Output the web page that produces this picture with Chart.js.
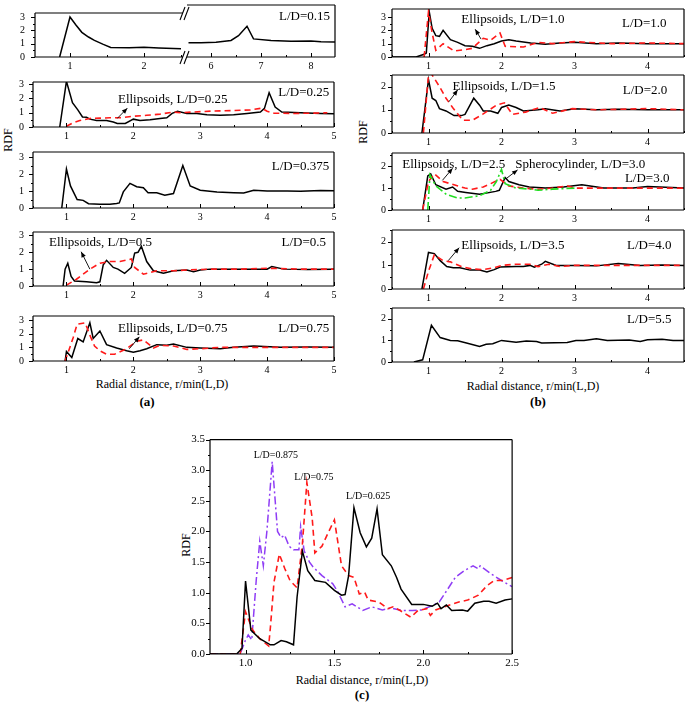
<!DOCTYPE html>
<html>
<head>
<meta charset="utf-8">
<script src="https://cdn.jsdelivr.net/npm/chart.js@4.4.0/dist/chart.umd.min.js"></script>
<style>
  body { margin: 0; background: #fff; }
  #page { position: relative; width: 685px; height: 702px; overflow: hidden;
          font-family: "Liberation Serif", "Times New Roman", serif; color: #000; }
  #page canvas { position: absolute; }
  .lbl { position: absolute; font-size: 12px; white-space: nowrap; transform: translate(-50%, -50%); }
  .rot { transform: translate(-50%, -50%) rotate(-90deg); }
  .fig { font-size: 13px; font-weight: bold; }
</style>
</head>
<body>
<div id="page">
  <div class="lbl rot" style="left:8px;top:140px">RDF</div>
  <div class="lbl rot" style="left:363px;top:132px">RDF</div>
  <div class="lbl rot" style="left:186px;top:545px">RDF</div>
  <div class="lbl" style="left:162px;top:384px">Radial distance, r/min(L,D)</div>
  <div class="lbl" style="left:533px;top:386px">Radial distance, r/min(L,D)</div>
  <div class="lbl" style="left:362px;top:680px">Radial distance, r/min(L,D)</div>
  <div class="lbl fig" style="left:147px;top:402px">(a)</div>
  <div class="lbl fig" style="left:538px;top:402px">(b)</div>
  <div class="lbl fig" style="left:362px;top:695px">(c)</div>
</div>
<script>
// =====================
// Datos (x = r/min(L,D), y = RDF)
// =====================
const a015Left  = [[0.86,0],[1.0,3.0],[1.08,2.4],[1.16,1.85],[1.25,1.5],[1.33,1.25],[1.45,0.95],[1.55,0.72],[1.8,0.7],[2.0,0.73],[2.2,0.68],[2.5,0.62]];
const a015Right = [[5.55,0.9],[5.8,0.9],[6.1,0.93],[6.4,1.05],[6.55,1.35],[6.72,1.95],[6.85,1.15],[7.2,1.05],[7.6,1.0],[8.0,1.02],[8.2,0.97],[8.48,0.95]];

const a025    = [[0.9,0],[1.0,3.2],[1.09,1.7],[1.17,1.2],[1.24,0.7],[1.3,0.68],[1.35,0.55],[1.45,0.45],[1.6,0.45],[1.7,0.35],[1.76,0.25],[1.88,0.25],[2.0,0.55],[2.1,0.45],[2.25,0.5],[2.4,0.6],[2.5,0.65],[2.58,0.95],[2.66,1.1],[2.8,0.95],[2.95,0.95],[3.1,0.85],[3.3,0.82],[3.5,0.85],[3.7,0.95],[3.9,1.05],[3.96,1.3],[4.03,2.4],[4.12,1.4],[4.22,1.05],[4.5,1.0],[4.8,0.95],[5.0,0.92]];
const a025Ell = [[1.0,0.05],[1.1,0.3],[1.2,0.45],[1.35,0.6],[1.5,0.62],[1.65,0.65],[1.8,0.65],[2.0,0.75],[2.2,0.82],[2.4,0.9],[2.6,1.05],[2.7,1.0],[2.9,1.05],[3.2,1.12],[3.5,1.15],[3.75,1.2],[3.92,1.32],[4.0,1.1],[4.1,0.97],[4.4,0.95],[4.7,0.97],[4.9,1.0]];

const a0375 = [[0.93,0],[1.0,2.3],[1.06,1.3],[1.16,0.5],[1.25,0.45],[1.33,0.25],[1.5,0.22],[1.65,0.22],[1.75,0.27],[1.79,0.3],[1.85,0.95],[1.95,1.45],[2.05,1.25],[2.15,1.2],[2.22,0.9],[2.35,0.9],[2.47,0.75],[2.6,0.85],[2.74,2.5],[2.85,1.3],[3.0,1.05],[3.25,0.95],[3.5,0.9],[3.65,0.88],[3.8,1.05],[4.0,1.0],[4.3,1.0],[4.5,0.98],[4.8,1.03],[5.0,1.02]];

const a05    = [[0.95,0],[0.98,1.0],[1.02,1.35],[1.07,0.57],[1.12,0.3],[1.3,0.25],[1.45,0.2],[1.5,0.25],[1.55,1.25],[1.6,1.52],[1.7,1.1],[1.77,1.0],[1.87,0.75],[1.97,1.1],[2.02,1.95],[2.07,2.0],[2.12,2.35],[2.2,1.45],[2.3,0.9],[2.45,0.75],[2.6,0.9],[2.8,0.95],[2.9,0.85],[3.0,0.95],[3.15,1.0],[3.5,1.0],[4.0,1.0],[4.07,1.15],[4.25,1.0],[4.6,0.98],[5.0,1.0]];
const a05Ell = [[1.0,0.05],[1.15,0.4],[1.35,1.0],[1.5,1.35],[1.65,1.45],[1.8,1.45],[1.97,1.6],[2.02,1.1],[2.15,0.7],[2.35,0.9],[2.6,0.9],[2.8,0.95],[3.15,1.0],[3.6,1.0],[4.0,1.05],[4.5,1.0],[5.0,1.0]];

const a075    = [[0.98,0],[1.0,0.7],[1.08,0.25],[1.17,1.65],[1.25,1.4],[1.35,2.8],[1.4,1.65],[1.5,2.2],[1.6,1.2],[1.75,0.95],[1.9,0.75],[2.0,0.65],[2.1,0.75],[2.2,0.9],[2.35,1.2],[2.5,1.15],[2.6,1.25],[2.8,1.0],[3.0,0.95],[3.3,0.9],[3.5,1.0],[3.8,1.1],[4.2,1.0],[4.6,1.02],[5.0,1.0]];
const a075Ell = [[0.98,0],[1.03,0.7],[1.1,1.7],[1.16,2.7],[1.28,2.8],[1.35,1.9],[1.42,1.1],[1.5,0.75],[1.6,0.5],[1.72,0.5],[1.9,0.9],[2.05,1.45],[2.15,1.55],[2.3,0.95],[2.4,1.15],[2.6,1.1],[2.8,0.85],[3.0,0.9],[3.3,1.0],[4.0,1.0],[5.0,1.0]];

const b10    = [[0.5,0],[0.83,0],[0.94,0.2],[0.97,0.3],[1.01,3.4],[1.05,2.15],[1.1,1.6],[1.15,1.55],[1.2,2.0],[1.3,1.3],[1.4,1.1],[1.5,0.85],[1.6,0.8],[1.7,0.65],[1.8,0.85],[1.9,1.0],[2.0,1.2],[2.1,1.3],[2.2,1.2],[2.4,1.05],[2.6,0.95],[2.8,1.05],[3.0,1.1],[3.3,1.0],[3.6,1.05],[4.0,1.0],[4.5,1.0]];
const b10Ell = [[0.94,0],[1.0,3.4],[1.05,1.8],[1.1,0.5],[1.2,1.0],[1.35,0.45],[1.5,0.55],[1.6,0.65],[1.75,1.4],[1.85,1.25],[1.98,1.8],[2.05,0.8],[2.3,0.75],[2.5,1.1],[2.7,1.0],[3.0,1.15],[3.5,1.0],[4.0,1.05],[4.5,1.0]];

const b20    = [[0.91,0],[1.0,2.3],[1.05,1.5],[1.1,1.4],[1.15,1.05],[1.24,0.95],[1.35,0.75],[1.45,0.75],[1.5,0.8],[1.62,1.5],[1.7,1.2],[1.75,0.95],[1.85,0.95],[1.95,0.85],[2.0,1.1],[2.1,1.2],[2.2,1.1],[2.3,0.95],[2.5,1.0],[2.6,1.05],[2.8,0.95],[3.0,1.05],[3.3,1.0],[3.6,1.02],[4.0,1.0],[4.5,1.0]];
const b15Ell = [[0.93,0],[1.0,2.5],[1.03,2.6],[1.15,2.0],[1.24,1.5],[1.33,1.1],[1.47,0.55],[1.6,0.55],[1.74,0.8],[1.93,1.2],[2.04,1.3],[2.15,0.8],[2.33,0.9],[2.52,1.1],[2.7,0.85],[2.97,1.05],[3.3,1.0],[4.0,1.05],[4.5,1.0]];

const b30     = [[0.92,0],[0.99,1.55],[1.03,1.65],[1.1,1.15],[1.24,0.95],[1.33,1.05],[1.4,0.85],[1.51,0.8],[1.7,0.72],[1.92,0.85],[1.97,0.9],[2.05,1.48],[2.1,1.3],[2.24,1.15],[2.38,1.05],[2.6,1.0],[2.85,1.05],[3.1,1.15],[3.4,1.0],[3.8,1.0],[4.0,1.07],[4.5,1.0]];
const b25Ell  = [[0.92,0],[1.0,1.3],[1.08,1.65],[1.2,1.3],[1.3,1.2],[1.5,1.0],[1.6,0.95],[1.75,1.05],[1.85,1.2],[1.98,1.4],[2.1,1.1],[2.3,1.0],[2.5,0.95],[2.7,1.0],[2.9,1.1],[3.0,1.0],[3.5,1.0],[4.0,1.0],[4.5,1.0]];
const b30Sph  = [[0.99,0],[1.02,1.6],[1.1,1.1],[1.25,0.7],[1.4,0.55],[1.5,0.55],[1.7,0.65],[1.85,0.9],[1.93,1.3],[2.0,1.85],[2.05,1.2],[2.2,1.0],[2.4,0.95],[2.5,0.9],[2.7,0.95],[3.0,1.0]];

const b40    = [[0.91,0],[1.0,1.55],[1.08,1.5],[1.16,1.2],[1.25,0.95],[1.34,0.9],[1.43,0.9],[1.57,0.8],[1.7,0.8],[1.8,0.72],[1.9,0.82],[1.98,0.93],[2.2,0.95],[2.3,0.95],[2.39,1.0],[2.45,0.92],[2.55,1.05],[2.6,1.17],[2.75,1.0],[3.0,1.0],[3.3,0.98],[3.6,1.08],[3.9,1.0],[4.2,1.02],[4.5,1.0]];
const b35Ell = [[0.93,0],[1.0,0.75],[1.08,1.45],[1.2,1.2],[1.3,1.15],[1.45,0.95],[1.6,0.85],[1.75,0.82],[1.9,0.9],[2.0,1.0],[2.2,1.05],[2.4,1.05],[2.5,0.95],[2.65,1.05],[2.8,0.95],[3.0,1.0],[3.5,1.0],[4.0,1.0],[4.5,1.0]];

const b55 = [[0.8,0],[0.92,0.1],[1.04,1.7],[1.16,1.13],[1.3,1.0],[1.4,0.98],[1.52,0.88],[1.7,0.72],[1.79,0.82],[1.88,0.85],[2.0,1.0],[2.2,0.92],[2.34,0.97],[2.48,0.95],[2.55,0.88],[2.9,0.9],[3.02,1.0],[3.13,1.0],[3.3,1.08],[3.45,1.0],[3.75,1.02],[3.9,0.95],[4.0,1.03],[4.2,1.05],[4.35,1.0],[4.5,1.0]];

const c0625 = [[0.8,0],[0.95,0],[0.98,0.09],[1.0,1.19],[1.03,0.39],[1.08,0.25],[1.14,0.15],[1.16,0.15],[1.2,0.22],[1.23,0.2],[1.27,0.15],[1.29,0.93],[1.32,1.68],[1.35,1.36],[1.39,1.2],[1.45,1.17],[1.5,1.04],[1.54,0.96],[1.56,0.97],[1.58,1.28],[1.61,2.39],[1.645,1.98],[1.68,1.75],[1.71,1.89],[1.74,2.37],[1.77,1.62],[1.82,1.44],[1.85,1.25],[1.875,1.06],[1.935,0.81],[2.0,0.81],[2.05,0.78],[2.08,0.83],[2.1,0.74],[2.13,0.8],[2.16,0.71],[2.22,0.72],[2.25,0.7],[2.29,0.83],[2.34,0.86],[2.37,0.86],[2.41,0.83],[2.46,0.88],[2.5,0.9]];
const c075  = [[0.8,0],[0.97,0],[1.0,0.69],[1.04,0.39],[1.08,0.25],[1.13,0.13],[1.14,0.44],[1.16,1.17],[1.19,1.63],[1.22,1.4],[1.25,1.2],[1.29,1.08],[1.32,1.8],[1.345,2.8],[1.375,2.22],[1.39,1.65],[1.43,1.76],[1.46,1.95],[1.5,2.19],[1.51,2.0],[1.54,1.44],[1.58,1.28],[1.61,1.25],[1.64,0.98],[1.67,1.01],[1.69,0.88],[1.75,0.85],[1.8,0.74],[1.83,0.77],[1.87,0.71],[1.93,0.6],[1.97,0.71],[2.02,0.74],[2.04,0.63],[2.07,0.72],[2.12,0.77],[2.2,0.85],[2.25,0.88],[2.31,0.96],[2.36,1.12],[2.4,1.2],[2.45,1.2],[2.5,1.25]];
const c0875 = [[0.8,0],[0.97,0],[1.0,0.23],[1.015,0.31],[1.035,0.23],[1.06,1.2],[1.08,1.84],[1.1,1.44],[1.12,2.0],[1.15,3.14],[1.18,2.0],[1.2,1.9],[1.22,1.94],[1.245,1.76],[1.27,1.7],[1.3,1.7],[1.31,2.08],[1.33,1.68],[1.36,1.5],[1.38,1.42],[1.43,1.28],[1.49,1.15],[1.52,1.01],[1.56,0.77],[1.6,0.82],[1.66,0.71],[1.71,0.77],[1.77,0.72],[1.82,0.75],[1.88,0.71],[1.94,0.71],[1.99,0.72],[2.05,0.79],[2.09,0.85],[2.12,0.98],[2.18,1.25],[2.23,1.36],[2.28,1.44],[2.31,1.39],[2.32,1.44],[2.38,1.31],[2.44,1.2],[2.5,1.1]];

// Marcas de los ejes
const xTicksA = [1, 2, 3, 4, 5],   xMinorA = [0.5, 1.5, 2.5, 3.5, 4.5];
const xTicksA1L = [1, 2],          xMinorA1L = [1.5, 2.5];
const xTicksA1R = [6, 7, 8],       xMinorA1R = [5.5, 6.5, 7.5];
const xTicksB = [1, 2, 3, 4],      xMinorB = [0.5, 1.5, 2.5, 3.5, 4.5];
const yTicksA = [0, 1, 2, 3],      yMinorA = [0.5, 1.5, 2.5];
const yTicksB = [0, 1, 2],         yMinorB = [0.5, 1.5, 2.5];
const xTicksC = [1.0, 1.5, 2.0, 2.5], xMinorC = [1.25, 1.75, 2.25];
const yTicksC = [0, 0.5, 1.0, 1.5, 2.0, 2.5, 3.0, 3.5];
const yMinorC = [0.25, 0.75, 1.25, 1.75, 2.25, 2.75, 3.25];

// =====================
// Estilos
// =====================
const SERIF = '"Liberation Serif", "Times New Roman", serif';
const BLACK = { color: '#000', width: 1.5, dash: [] };
const RED = { color: '#ff1a1a', width: 1.6, dash: [6, 4] };
const GREEN = { color: '#22dd22', width: 1.6, dash: [8, 3, 2, 3] };
const PURPLE = { color: '#8f3df5', width: 1.5, dash: [8, 3, 2, 3] };
const page = document.getElementById('page');

// =====================
// Plugin: marco, marcas, textos y flechas
// =====================
function framePlugin(cfg) {
  return {
    id: 'frame',
    afterDatasetsDraw(chart) {
      const { ctx, chartArea: a, scales: { x, y } } = chart;
      const sides = cfg.sides || 'ltrb';
      ctx.save();
      ctx.strokeStyle = '#000';
      ctx.lineWidth = 1.2;
      ctx.beginPath();
      if (sides.includes('t')) { ctx.moveTo(a.left, a.top); ctx.lineTo(a.right, a.top); }
      if (sides.includes('b')) { ctx.moveTo(a.left, a.bottom); ctx.lineTo(a.right, a.bottom); }
      if (sides.includes('l')) { ctx.moveTo(a.left, a.top); ctx.lineTo(a.left, a.bottom); }
      if (sides.includes('r')) { ctx.moveTo(a.right, a.top); ctx.lineTo(a.right, a.bottom); }
      ctx.stroke();

      // marcas: x hacia dentro, y hacia fuera
      ctx.lineWidth = 1;
      ctx.beginPath();
      const tx = (vals, len) => vals.forEach(v => {
        const p = Math.round(x.getPixelForValue(v)) + 0.5;
        if (p < a.left - 1 || p > a.right + 1) return;
        ctx.moveTo(p, a.bottom); ctx.lineTo(p, a.bottom - len);
      });
      const ty = (vals, len) => vals.forEach(v => {
        const p = Math.round(y.getPixelForValue(v)) + 0.5;
        if (p < a.top - 1 || p > a.bottom + 1) return;
        ctx.moveTo(a.left, p); ctx.lineTo(a.left - len, p);
      });
      tx(cfg.xTicks, 4); tx(cfg.xMinor || [], 2);
      if (sides.includes('l')) { ty(cfg.yTicks, 4); ty(cfg.yMinor || [], 2); }
      ctx.stroke();

      // corte del eje
      if (cfg.brk) {
        ctx.lineWidth = 1.1;
        ctx.beginPath();
        [a.top, a.bottom].forEach(yy => {
          ctx.moveTo(a.right - 3, yy + 7); ctx.lineTo(a.right + 2, yy - 6);
          ctx.moveTo(a.right + 1, yy + 7); ctx.lineTo(a.right + 6, yy - 6);
        });
        ctx.stroke();
      }

      // textos
      ctx.fillStyle = '#000';
      ctx.font = (cfg.noteSize || 13) + 'px ' + SERIF;
      ctx.textBaseline = 'middle';
      (cfg.notes || []).forEach(([text, nx, ny, align]) => {
        ctx.textAlign = align || 'left';
        ctx.fillText(text, x.getPixelForValue(nx), y.getPixelForValue(ny));
      });

      // flechas
      (cfg.arrows || []).forEach(([x1, y1, x2, y2]) => {
        const p1 = [x.getPixelForValue(x1), y.getPixelForValue(y1)];
        const p2 = [x.getPixelForValue(x2), y.getPixelForValue(y2)];
        const ang = Math.atan2(p2[1] - p1[1], p2[0] - p1[0]);
        ctx.lineWidth = 0.9;
        ctx.beginPath(); ctx.moveTo(p1[0], p1[1]); ctx.lineTo(p2[0], p2[1]); ctx.stroke();
        ctx.beginPath();
        ctx.moveTo(p2[0], p2[1]);
        ctx.lineTo(p2[0] - 6 * Math.cos(ang - 0.4), p2[1] - 6 * Math.sin(ang - 0.4));
        ctx.lineTo(p2[0] - 6 * Math.cos(ang + 0.4), p2[1] - 6 * Math.sin(ang + 0.4));
        ctx.closePath(); ctx.fill();
      });
      ctx.restore();
    }
  };
}

// =====================
// Crear un subgráfico
// =====================
function plot(cfg) {
  const [l, t, r, b] = cfg.box;
  const padL = cfg.padL, padT = 8, padR = cfg.padR ?? 8, padB = 18;
  const cv = document.createElement('canvas');
  cv.width = r - l + padL + padR;
  cv.height = b - t + padT + padB;
  cv.style.left = (l - padL) + 'px';
  cv.style.top = (t - padT) + 'px';
  page.appendChild(cv);

  const fmt = cfg.fmt || (v => v);
  const tickFont = { family: SERIF, size: cfg.tickSize || 10 };

  new Chart(cv, {
    type: 'line',
    data: {
      datasets: cfg.series.map(([pts, st]) => ({
        data: pts.map(([px, py]) => ({ x: px, y: py })),
        borderColor: st.color,
        borderWidth: st.width,
        borderDash: st.dash,
        pointRadius: 0,
        tension: 0,
        fill: false
      }))
    },
    options: {
      responsive: false,
      animation: false,
      events: [],
      layout: { padding: { left: 0, top: padT, right: padR, bottom: 0 } },
      plugins: { legend: { display: false }, tooltip: { enabled: false } },
      scales: {
        x: {
          type: 'linear', min: cfg.x[0], max: cfg.x[1],
          grid: { display: false, drawTicks: false }, border: { display: false },
          afterBuildTicks: s => { s.ticks = cfg.xTicks.map(v => ({ value: v })); },
          afterFit: s => { s.height = padB; },
          ticks: { padding: 3, color: '#000', font: tickFont, maxRotation: 0, autoSkip: false,
                   callback: v => fmt(v) }
        },
        y: {
          type: 'linear', min: cfg.y[0], max: cfg.y[1],
          grid: { display: false, drawTicks: false }, border: { display: false },
          afterBuildTicks: s => { s.ticks = cfg.yTicks.map(v => ({ value: v })); },
          afterFit: s => { s.width = padL; },
          ticks: { display: cfg.yLabels !== false, padding: cfg.yPad ?? 6, color: '#000',
                   font: tickFont, autoSkip: false, callback: v => fmt(v) }
        }
      }
    },
    plugins: [framePlugin(cfg)]
  });
}

// =====================
// Panel (a)
// =====================
const baseA = { xTicks: xTicksA, xMinor: xMinorA, yTicks: yTicksA, yMinor: yMinorA, x: [0.5, 5.0], padL: 33, yPad: 9 };

plot({ box: [35, 5, 183, 57], x: [0.527, 2.527], y: [0, 3.3], padL: 35, yPad: 10, padR: 10,
       xTicks: xTicksA1L, xMinor: xMinorA1L, yTicks: yTicksA, yMinor: yMinorA, sides: 'ltb', brk: true,
       series: [[a015Left, BLACK]] });
plot({ box: [187, 5, 335, 57], x: [5.52, 8.48], y: [0, 3.3], padL: 0, yLabels: false,
       xTicks: xTicksA1R, xMinor: xMinorA1R, yTicks: yTicksA, sides: 'trb',
       series: [[a015Right, BLACK]], notes: [['L/D=0.15', 8.38, 2.55, 'right']] });

plot({ ...baseA, box: [33, 75, 334, 127], y: [0, 3.15],
       series: [[a025Ell, RED], [a025, BLACK]],
       notes: [['Ellipsoids, L/D=0.25', 1.77, 1.92], ['L/D=0.25', 4.93, 2.4, 'right']],
       arrows: [[1.76, 0.6, 1.91, 1.32]] });

plot({ ...baseA, box: [33, 145, 334, 208], y: [0, 3.3],
       series: [[a0375, BLACK]],
       notes: [['L/D=0.375', 4.93, 2.42, 'right']] });

plot({ ...baseA, box: [33, 225, 334, 286], y: [0, 3.2],
       series: [[a05Ell, RED], [a05, BLACK]],
       notes: [['Ellipsoids, L/D=0.5', 0.74, 2.6], ['L/D=0.5', 4.88, 2.6, 'right']],
       arrows: [[1.35, 1.0, 1.22, 2.03]] });

plot({ ...baseA, box: [33, 309, 334, 361], y: [0, 3.3],
       series: [[a075Ell, RED], [a075, BLACK]],
       notes: [['Ellipsoids, L/D=0.75', 1.77, 2.4], ['L/D=0.75', 4.93, 2.4, 'right']],
       arrows: [[1.94, 0.9, 2.09, 1.77]] });

// =====================
// Panel (b)
// =====================
const baseB = { xTicks: xTicksB, xMinor: xMinorB, yTicks: yTicksB, yMinor: yMinorB, x: [0.5, 4.5], y: [0, 2.5], padL: 30, yPad: 6, padR: 4 };

plot({ ...baseB, box: [392, 5, 684, 57], y: [0, 3.6], yTicks: yTicksA, yMinor: yMinorA,
       series: [[b10Ell, RED], [b10, BLACK]],
       notes: [['Ellipsoids, L/D=1.0', 1.45, 2.78], ['L/D=1.0', 4.26, 2.5, 'right']],
       arrows: [[1.72, 1.34, 1.64, 2.08]] });

plot({ ...baseB, box: [392, 71, 684, 133],
       series: [[b15Ell, RED], [b20, BLACK]],
       notes: [['Ellipsoids, L/D=1.5', 1.33, 2.0], ['L/D=2.0', 4.27, 1.82, 'right']],
       arrows: [[1.28, 1.35, 1.4, 1.86]] });

plot({ ...baseB, box: [392, 149, 684, 210], y: [0, 2.6],
       series: [[b30Sph, GREEN], [b25Ell, RED], [b30, BLACK]],
       notes: [['Ellipsoids, L/D=2.5', 0.64, 2.05], ['Spherocylinder, L/D=3.0', 2.19, 2.05],
               ['L/D=3.0', 4.3, 1.45, 'right']],
       arrows: [[1.19, 1.35, 1.33, 1.9], [2.06, 1.42, 2.22, 1.83]] });

plot({ ...baseB, box: [392, 226, 684, 289],
       series: [[b35Ell, RED], [b40, BLACK]],
       notes: [['Ellipsoids, L/D=3.5', 1.45, 1.85], ['L/D=4.0', 4.33, 1.85, 'right']],
       arrows: [[1.27, 1.2, 1.42, 1.75]] });

plot({ ...baseB, box: [392, 304, 684, 362],
       series: [[b55, BLACK]],
       notes: [['L/D=5.5', 4.33, 1.95, 'right']] });

// =====================
// Panel (c)
// =====================
plot({ box: [210, 436, 514, 654], x: [0.8, 2.5], y: [0, 3.5], padL: 30, yPad: 5, tickSize: 11,
       xTicks: xTicksC, xMinor: xMinorC, yTicks: yTicksC, yMinor: yMinorC,
       fmt: v => v.toFixed(1), noteSize: 10,
       series: [[c0625, BLACK], [c075, RED], [c0875, PURPLE]],
       notes: [['L/D=0.875', 1.17, 3.24, 'center'], ['L/D=0.75', 1.385, 2.89, 'center'],
               ['L/D=0.625', 1.69, 2.58, 'center']] });
</script>
</body>
</html>
